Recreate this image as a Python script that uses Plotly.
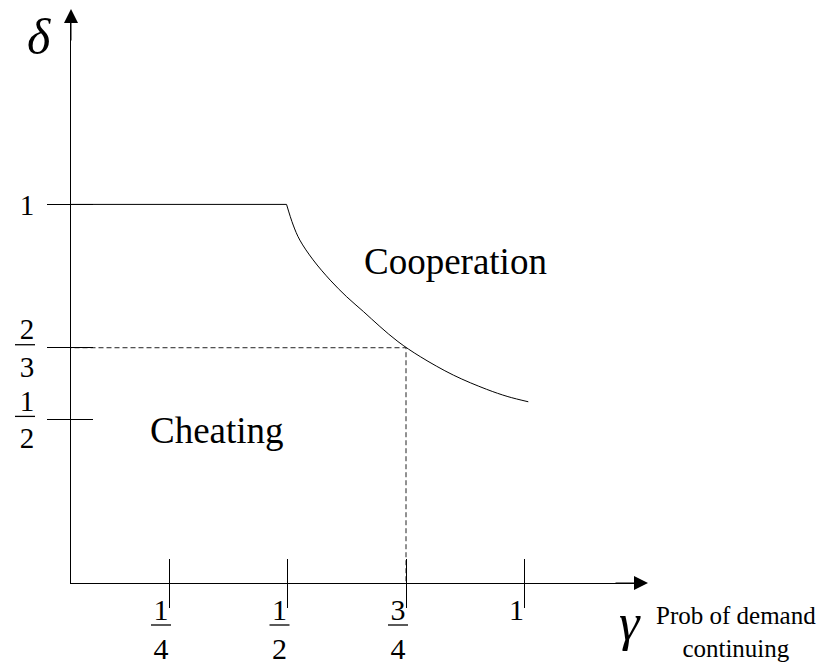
import plotly.graph_objects as go

# ---------------- data ----------------
gamma_ticks = [0.25, 0.5, 0.75, 1.0]
gamma_ticktext = ["1<br>4", "1<br>2", "3<br>4", "1"]
gamma_fraction_ticks = [0.25, 0.5, 0.75]          # labels drawn as fractions

delta_ticks = [0.5, 2 / 3, 1.0]
delta_ticktext = ["1<br>2", "2<br>3", "1"]
delta_fraction_ticks = [0.5, 2 / 3]

# flat part of the boundary (delta = 1 up to gamma = 1/2)
gamma_flat = [0.0, 0.498]
delta_flat = [1.0, 1.0]

# curved part of the boundary between cheating and cooperation
gamma_curve = [0.498, 0.512, 0.526, 0.554, 0.590, 0.625, 0.660, 0.695,
               0.733, 0.780, 0.850, 0.920, 0.965, 1.008]
delta_curve = [1.000, 0.952, 0.917, 0.871, 0.824, 0.785, 0.751, 0.716,
               0.681, 0.646, 0.603, 0.570, 0.553, 0.541]

# dashed reference point
gamma_ref = 0.75
delta_ref = 2 / 3

FONT = "Liberation Serif, Times New Roman, serif"
# the page body adds an 8px margin, so the figure is 16px smaller than the window
W, H = 811, 656
L, R, T, B = 63, 175, 4, 81
PW, PH = W - L - R, H - T - B
OFF = 8  # body margin of the html page


def px(x):
    """window pixel x -> paper coordinate"""
    return (x - OFF - L) / PW


def py(y):
    """window pixel y -> paper coordinate"""
    return (H - B - (y - OFF)) / PH


fig = go.Figure()

# dashed guides
fig.add_trace(go.Scatter(x=[0, gamma_ref, gamma_ref], y=[delta_ref, delta_ref, 0],
                         mode="lines", line=dict(color="#222", width=1, dash="5px,3px"),
                         hoverinfo="skip", showlegend=False))
# boundary: flat part and curve
fig.add_trace(go.Scatter(x=gamma_flat, y=delta_flat, mode="lines",
                         line=dict(color="black", width=1),
                         hoverinfo="skip", showlegend=False))
fig.add_trace(go.Scatter(x=gamma_curve, y=delta_curve, mode="lines",
                         line=dict(color="black", width=1, shape="spline", smoothing=1.0),
                         hoverinfo="skip", showlegend=False))
# dummy trace for overlay axes (inside half of the crossing ticks)
fig.add_trace(go.Scatter(x=[None], y=[None], xaxis="x2", yaxis="y2",
                         showlegend=False, hoverinfo="skip"))

xr = [0.04325, 1.2521]
yr = [0.11953, 1.44744]

fig.update_layout(
    width=W, height=H,
    margin=dict(l=L, r=R, t=T, b=B, autoexpand=False),
    paper_bgcolor="white", plot_bgcolor="white",
    font=dict(family=FONT, color="black"),
    xaxis=dict(range=xr, showgrid=False, zeroline=False, showline=True,
               linecolor="black", linewidth=1, automargin=False,
               tickmode="array", tickvals=gamma_ticks, ticktext=gamma_ticktext,
               ticks="outside", ticklen=24, tickwidth=1, tickcolor="black",
               tickfont=dict(family=FONT, size=30, color="black"),
               ticklabelshift=-8, ticklabelstandoff=-24),
    yaxis=dict(range=yr, showgrid=False, zeroline=False, showline=True,
               linecolor="black", linewidth=1, automargin=False,
               tickmode="array", tickvals=delta_ticks, ticktext=delta_ticktext,
               ticks="outside", ticklen=23, tickwidth=1, tickcolor="black",
               tickfont=dict(family=FONT, size=29, color="black"),
               ticklabelstandoff=7),
    xaxis2=dict(range=xr, overlaying="x", anchor="y2", side="bottom",
                showgrid=False, zeroline=False, showline=False, automargin=False,
                tickmode="array", tickvals=gamma_ticks, showticklabels=False,
                ticks="inside", ticklen=24, tickwidth=1, tickcolor="black"),
    yaxis2=dict(range=yr, overlaying="y", anchor="x2", side="left",
                showgrid=False, zeroline=False, showline=False, automargin=False,
                tickmode="array", tickvals=delta_ticks, showticklabels=False,
                ticks="inside", ticklen=22, tickwidth=1, tickcolor="black"),
    showlegend=False,
)

# fraction bars of the tick labels
shapes = []
for v in gamma_fraction_ticks:
    shapes.append(dict(type="line", xref="x", xsizemode="pixel", xanchor=v,
                       x0=-18, x1=2, yref="paper", ysizemode="pixel", yanchor=0,
                       y0=-42, y1=-42, line=dict(color="black", width=1.3)))
for v in delta_fraction_ticks:
    shapes.append(dict(type="line", xref="paper", xsizemode="pixel", xanchor=0,
                       x0=-56, x1=-36, yref="y", ysizemode="pixel", yanchor=v,
                       y0=3, y1=3, line=dict(color="black", width=1.3)))
fig.update_layout(shapes=shapes)

annotations = [
    # axis arrows (tip lands on the target point)
    dict(xref="paper", yref="paper", x=0, y=py(8), ax=0, ay=34, text="", showarrow=True,
         arrowhead=2, arrowsize=2.8, arrowwidth=1, arrowcolor="black"),
    dict(xref="paper", yref="paper", x=px(648), y=0, ax=-34, ay=0, text="", showarrow=True,
         arrowhead=2, arrowsize=2.8, arrowwidth=1, arrowcolor="black"),
    # axis symbols
    dict(xref="paper", yref="paper", x=px(39), y=py(37), text="<i>δ</i>", showarrow=False,
         xanchor="center", yanchor="middle", font=dict(family=FONT, size=50)),
    dict(xref="paper", yref="paper", x=px(630), y=py(622), text="<i>γ</i>", showarrow=False,
         xanchor="center", yanchor="middle", font=dict(family=FONT, size=52)),
    dict(xref="paper", yref="paper", x=px(735.5), y=py(632),
         text="Prob of demand<br>continuing", showarrow=False, align="center",
         xanchor="center", yanchor="middle", font=dict(family=FONT, size=25)),
    # region labels
    dict(xref="paper", yref="paper", x=px(455.5), y=py(261), text="Cooperation",
         showarrow=False, xanchor="center", yanchor="middle",
         font=dict(family=FONT, size=37)),
    dict(xref="paper", yref="paper", x=px(216.5), y=py(430), text="Cheating",
         showarrow=False, xanchor="center", yanchor="middle",
         font=dict(family=FONT, size=37)),
]
fig.update_layout(annotations=annotations)

fig.write_html("out.html")
